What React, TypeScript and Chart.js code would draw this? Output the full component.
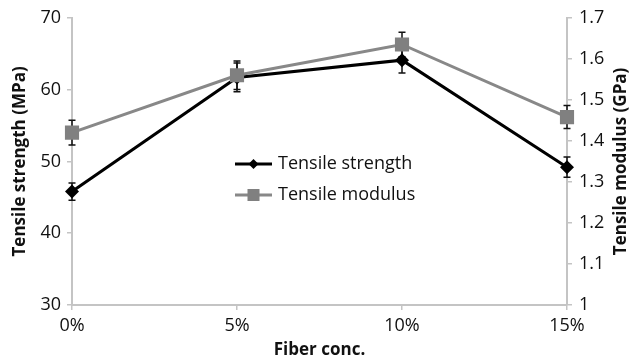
import React, { useEffect, useRef } from "react";
import { Chart, registerables } from "chart.js";

Chart.register(...registerables);

const categories = ["0%", "5%", "10%", "15%"];
const strength = [45.8, 61.7, 64.1, 49.2];
const strengthErr = [1.2, 2.0, 1.8, 1.4];
const modulus = [1.42, 1.56, 1.635, 1.458];
const modulusErr = [0.03, 0.035, 0.03, 0.028];
const leftTicks = { min: 30, max: 70, step: 10 };
const rightTicks = { min: 1, max: 1.7, step: 0.1 };
const xTitle = "Fiber conc.";
const leftTitle = "Tensile strength (MPa)";
const rightTitle = "Tensile modulus (GPa)";

const FONT = "'Open Sans', 'Noto Sans', sans-serif";
const BLACK = "#000000";
const GREY = "#888888";
const AXIS = "#c4c4c4";

const errorBarPlugin = {
  id: "errorBars",
  beforeDatasetsDraw(chart: any) {
    const ctx = chart.ctx;
    const x = chart.scales.x;
    const sets = [
      { vals: strength, errs: strengthErr, scale: chart.scales.y },
      { vals: modulus, errs: modulusErr, scale: chart.scales.y1 },
    ];
    ctx.save();
    ctx.strokeStyle = "#111";
    ctx.lineWidth = 1.5;
    sets.forEach((s) => {
      s.vals.forEach((v, i) => {
        const px = x.getPixelForValue(i);
        const top = s.scale.getPixelForValue(v + s.errs[i]);
        const bot = s.scale.getPixelForValue(v - s.errs[i]);
        ctx.beginPath();
        ctx.moveTo(px, top);
        ctx.lineTo(px, bot);
        ctx.moveTo(px - 3.5, top);
        ctx.lineTo(px + 3.5, top);
        ctx.moveTo(px - 3.5, bot);
        ctx.lineTo(px + 3.5, bot);
        ctx.stroke();
      });
    });
    ctx.restore();
  },
  afterDraw(chart: any) {
    const ctx = chart.ctx;
    ctx.save();
    // right axis title (reads bottom to top)
    const area = chart.chartArea;
    ctx.translate(621, (area.top + area.bottom) / 2);
    ctx.rotate(-Math.PI / 2);
    ctx.font = `bold 17px ${FONT}`;
    ctx.fillStyle = "#111";
    ctx.textAlign = "center";
    ctx.textBaseline = "middle";
    ctx.fillText(rightTitle, 0, 0);
    ctx.restore();

    // legend inside the plot
    ctx.save();
    const items = chart.data.datasets;
    const rows = [164, 195];
    items.forEach((ds: any, i: number) => {
      const y = rows[i];
      ctx.strokeStyle = ds.borderColor;
      ctx.lineWidth = 3;
      ctx.beginPath();
      ctx.moveTo(235, y);
      ctx.lineTo(272, y);
      ctx.stroke();
      ctx.fillStyle = ds.backgroundColor;
      const cx = 253.5;
      if (ds.pointStyle === "rectRot") {
        const r = 5;
        ctx.beginPath();
        ctx.moveTo(cx, y - r);
        ctx.lineTo(cx + r, y);
        ctx.lineTo(cx, y + r);
        ctx.lineTo(cx - r, y);
        ctx.closePath();
        ctx.fill();
      } else {
        ctx.fillRect(cx - 6, y - 6, 12, 12);
      }
      ctx.fillStyle = "#111";
      ctx.font = `18px ${FONT}`;
      ctx.textAlign = "left";
      ctx.textBaseline = "middle";
      ctx.fillText(ds.label, 278, y);
    });
    ctx.restore();
  },
};

export default function App() {
  const ref = useRef<HTMLCanvasElement | null>(null);
  useEffect(() => {
    if (!ref.current) return;
    const chart = new Chart(ref.current, {
      type: "line",
      data: {
        labels: categories,
        datasets: [
          {
            label: "Tensile strength",
            data: strength,
            yAxisID: "y",
            borderColor: BLACK,
            backgroundColor: BLACK,
            borderWidth: 3,
            pointStyle: "rectRot",
            pointRadius: 7,
            pointBorderWidth: 0,
            tension: 0,
            order: 1,
          },
          {
            label: "Tensile modulus",
            data: modulus,
            yAxisID: "y1",
            borderColor: GREY,
            backgroundColor: "#808080",
            borderWidth: 3,
            pointStyle: "rect",
            pointRadius: 10,
            pointBorderWidth: 0,
            tension: 0,
            order: 0,
          },
        ],
      },
      options: {
        animation: false,
        responsive: false,
        maintainAspectRatio: false,
        layout: { padding: { top: 16, left: 0, right: 0, bottom: 0 } },
        plugins: { legend: { display: false }, tooltip: { enabled: false } },
        scales: {
          x: {
            type: "category",
            offset: false,
            grid: { drawOnChartArea: false, drawTicks: true, tickLength: 5, color: AXIS, lineWidth: 1.5 },
            border: { color: AXIS, width: 2 },
            ticks: { color: "#111", font: { family: FONT, size: 18 }, padding: 5, maxRotation: 0 },
            title: { display: true, text: xTitle, color: "#111", font: { family: FONT, size: 17, weight: "bold" }, padding: 3 },
            afterFit: (s: any) => { s.height = 58; },
          },
          y: {
            position: "left",
            min: leftTicks.min,
            max: leftTicks.max,
            ticks: { stepSize: leftTicks.step, color: "#111", font: { family: FONT, size: 18 }, padding: 6 },
            grid: { drawOnChartArea: false, drawTicks: true, tickLength: 5, color: AXIS, lineWidth: 1.5 },
            border: { color: AXIS, width: 2 },
            title: { display: true, text: leftTitle, color: "#111", font: { family: FONT, size: 17, weight: "bold" }, padding: 10 },
            afterFit: (s: any) => { s.width = 72; },
          },
          y1: {
            position: "right",
            min: rightTicks.min,
            max: rightTicks.max,
            ticks: {
              stepSize: rightTicks.step,
              color: "#111",
              font: { family: FONT, size: 18 },
              padding: 7,
              callback: (v: any) => String(Math.round(Number(v) * 10) / 10),
            },
            grid: { drawOnChartArea: false, drawTicks: true, tickLength: 5, color: AXIS, lineWidth: 1.5 },
            border: { color: AXIS, width: 2 },
            afterFit: (s: any) => { s.width = 66; },
          },
        },
      },
      plugins: [errorBarPlugin],
    } as any);
    return () => chart.destroy();
  }, []);
  return (
    <div style={{ position: "absolute", left: 0, top: 0, width: 633, height: 363, background: "#fff" }}>
      <canvas ref={ref} width={633} height={363} style={{ width: 633, height: 363 }} />
    </div>
  );
}
